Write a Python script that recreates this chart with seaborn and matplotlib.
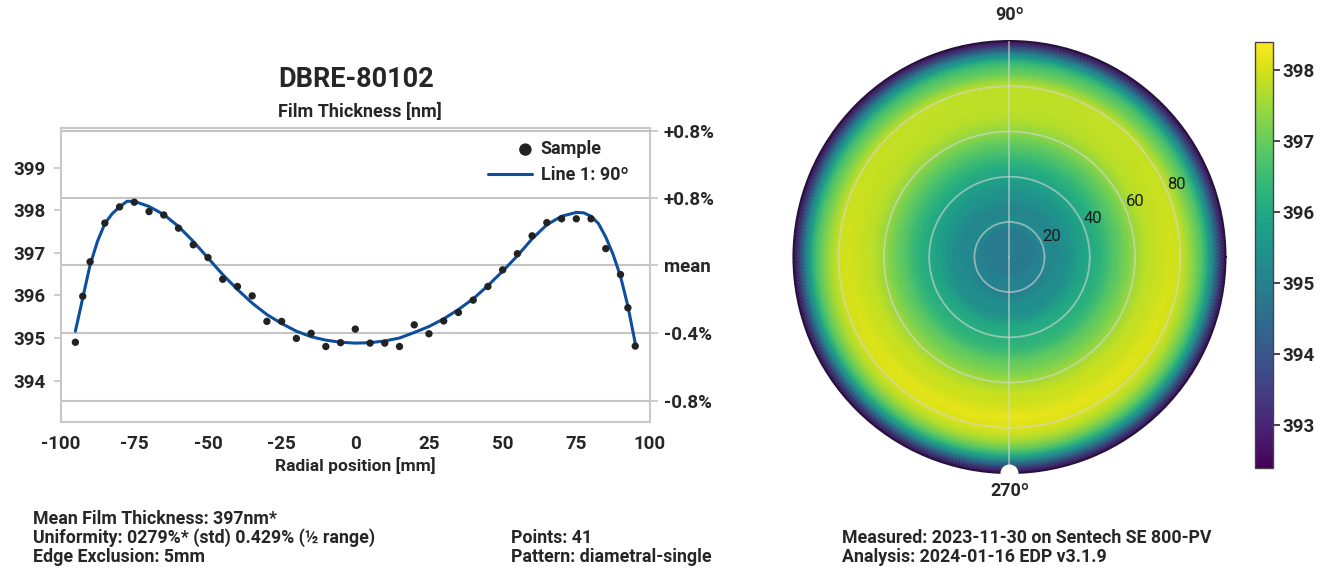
import numpy as np
import matplotlib
matplotlib.use("Agg")
import matplotlib.pyplot as plt
import seaborn as sns
from matplotlib.legend_handler import HandlerPathCollection

# line scan samples (mm, nm)
sample_x = [-95, -92.5, -90, -85, -80, -75, -70, -65, -60, -55, -50, -45, -40, -35,
            -30, -25, -20, -15, -10, -5, 0, 5, 10, 15, 20, 25, 30, 35, 40, 45, 50,
            55, 60, 65, 70, 75, 80, 85, 90, 92.5, 95]
sample_y = [394.90, 395.98, 396.79, 397.70, 398.08, 398.19, 397.97, 397.89, 397.58,
            397.19, 396.89, 396.38, 396.21, 395.99, 395.39, 395.39, 394.99, 395.11,
            394.80, 394.89, 395.21, 394.88, 394.88, 394.80, 395.31, 395.10, 395.40,
            395.60, 395.89, 396.21, 396.60, 396.98, 397.40, 397.71, 397.80, 397.80,
            397.80, 397.10, 396.49, 395.71, 394.81]

# fitted line 1 (90 deg)
fit_x = [-95, -92.5, -90, -87.5, -85, -82.5, -80, -77.5, -75, -70, -65, -60, -55, -50,
         -45, -40, -35, -30, -25, -20, -15, -10, -5, 0, 5, 10, 15, 20, 25, 30, 35,
         40, 45, 50, 55, 60, 65, 70, 75, 77.5, 80, 82.5, 85, 87.5, 90, 92.5, 95]
fit_y = [395.16, 395.94, 396.72, 397.27, 397.69, 397.92, 398.08, 398.21, 398.21,
         398.09, 397.90, 397.62, 397.27, 396.88, 396.49, 396.14, 395.82, 395.55,
         395.34, 395.16, 395.03, 394.95, 394.90, 394.88, 394.89, 394.93, 395.00,
         395.13, 395.27, 395.45, 395.67, 395.92, 396.23, 396.57, 396.93, 397.33,
         397.66, 397.86, 397.95, 397.94, 397.86, 397.69, 397.37, 396.96, 396.45,
         395.75, 394.88]

# reference lines (nm) and their labels
ref_lines = [399.87, 398.29, 396.71, 395.11, 393.53]
ref_labels = ["+0.8%", "+0.8%", "mean", "-0.4%", "-0.8%"]

# wafer rim value (nm)
edge_value = 392.5

info_left = ["Mean Film Thickness: 397nm*",
             "Uniformity: 0279%* (std) 0.429% (½ range)",
             "Edge Exclusion: 5mm"]
info_mid = ["", "Points: 41", "Pattern: diametral-single"]
info_right = ["", "Measured: 2023-11-30 on Sentech SE 800-PV",
              "Analysis: 2024-01-16 EDP v3.1.9"]


class RightMarker(HandlerPathCollection):
    # put the legend dot at the right end of the handle box
    def get_xdata(self, legend, xdescent, ydescent, width, height, fontsize):
        x = -xdescent + width - 0.35 * fontsize
        return [x], [x]


sns.set_theme(style="white")
plt.rcParams["font.family"] = ["Roboto", "DejaVu Sans"]
plt.rcParams["font.weight"] = "semibold"
plt.rcParams["axes.labelweight"] = "semibold"
plt.rcParams["axes.unicode_minus"] = False

fig = plt.figure(figsize=(13.3, 5.77), dpi=100)

# ---- left: line scan ----
ax = fig.add_axes([0.0456, 0.2681, 0.4431, 0.5106])
for y in ref_lines:
    ax.axhline(y, color="#c4c4c4", lw=1.5, zorder=0)
sns.lineplot(x=fit_x, y=fit_y, ax=ax, color="#0d4f9c", lw=2.2, sort=False,
             label="Line 1: 90º", zorder=2)
sns.scatterplot(x=sample_x, y=sample_y, ax=ax, color="#222222", s=28,
                edgecolor="none", label="Sample", zorder=3)
ax.set_xlim(-100, 100)
ax.set_ylim(393.02, 399.94)
ax.set_xticks([-100, -75, -50, -25, 0, 25, 50, 75, 100])
ax.set_yticks([394, 395, 396, 397, 398, 399])
ax.tick_params(axis="x", length=0, pad=9, labelsize=13.5)
ax.tick_params(axis="y", length=5, width=1.2, color="#c4c4c4", pad=6, labelsize=13.5)
for s in ax.spines.values():
    s.set_color("#c8c8c8")
    s.set_linewidth(1.5)
ax.set_xlabel("Radial position [mm]", fontsize=12.5, labelpad=3)

handles, labels = ax.get_legend_handles_labels()
order = [labels.index("Sample"), labels.index("Line 1: 90º")]
ax.legend([handles[i] for i in order], [labels[i] for i in order],
          loc="upper right", frameon=False, fontsize=13, handlelength=2.4,
          borderaxespad=0.3, labelspacing=0.45, handletextpad=0.5,
          bbox_to_anchor=(0.985, 1.0),
          handler_map={handles[order[0]]: RightMarker(sizes=[80])})

ax2 = ax.twinx()
ax2.set_ylim(ax.get_ylim())
ax2.set_yticks(ref_lines)
ax2.set_yticklabels(ref_labels)
ax2.tick_params(axis="y", length=6, width=1.2, color="#c4c4c4", pad=4, labelsize=13.5)
for s in ax2.spines.values():
    s.set_visible(False)

fig.text(356 / 1330, 1 - 80 / 577, "DBRE-80102", ha="center", va="center",
         fontsize=19.5, fontweight="bold")
fig.text(360 / 1330, 1 - 112 / 577, "Film Thickness [nm]", ha="center",
         va="center", fontsize=13)

# ---- right: wafer map built from the line scan ----
lookup = dict(zip(sample_x, sample_y))
radii = [x for x in sample_x if x > 0] + [100]
top = [lookup[r] for r in radii[:-1]] + [edge_value]
bottom = [lookup[-r] for r in radii[:-1]] + [edge_value]

theta = np.linspace(0, 2 * np.pi, 361)
T, R = np.meshgrid(theta, radii, indexing="ij")
w = (1 + np.sin(T)) / 2
Z = np.array(top)[None, :] * w + np.array(bottom)[None, :] * (1 - w)

pax = fig.add_axes([0.5966, 0.1802, 0.3248, 0.7487], projection="polar")
mesh = pax.pcolormesh(T, R, Z, cmap="viridis", vmin=392.4, vmax=398.4,
                      shading="gouraud", zorder=0, antialiased=False)
mesh.set_clip_path(pax.patch)
pax.set_axisbelow(False)
pax.set_ylim(4.5, 100)
pax.set_rgrids([20, 40, 60, 80], labels=["20", "40", "60", "80"],
               fontsize=12, color="#1a1a1a", fontweight="normal")
pax.set_thetagrids([90, 270], labels=["", ""])
pax.tick_params(length=0)
pax.grid(color="#d6d6d6", lw=1.3, alpha=0.6)
for side in ["start", "end", "inner"]:
    pax.spines[side].set_visible(False)
pax.spines["polar"].set_color("#24143c")
pax.spines["polar"].set_linewidth(1.5)
pax.plot([np.deg2rad(270)], [100], "o", color="white", markersize=12,
         clip_on=False, zorder=5)
pax.text(np.deg2rad(90), 111.5, "90º", ha="center", va="center", fontsize=13)
pax.text(np.deg2rad(270), 107.8, "270º", ha="center", va="center", fontsize=13)

cax = fig.add_axes([0.9436, 0.1889, 0.01353, 0.7383])
cb = fig.colorbar(mesh, cax=cax)
cb.set_ticks([393, 394, 395, 396, 397, 398])
cb.ax.tick_params(labelsize=13.5, length=5, width=1.2, pad=2)
cb.outline.set_edgecolor("#444444")
cb.outline.set_linewidth(1.0)

# ---- footer ----
rows_y = [1 - 519 / 577, 1 - 538 / 577, 1 - 557 / 577]
for col_x, col in [(33 / 1330, info_left), (511 / 1330, info_mid), (842 / 1330, info_right)]:
    for yy, txt in zip(rows_y, col):
        if txt:
            fig.text(col_x, yy, txt, ha="left", va="center", fontsize=12.8)

fig.savefig("out.png", dpi=100)
